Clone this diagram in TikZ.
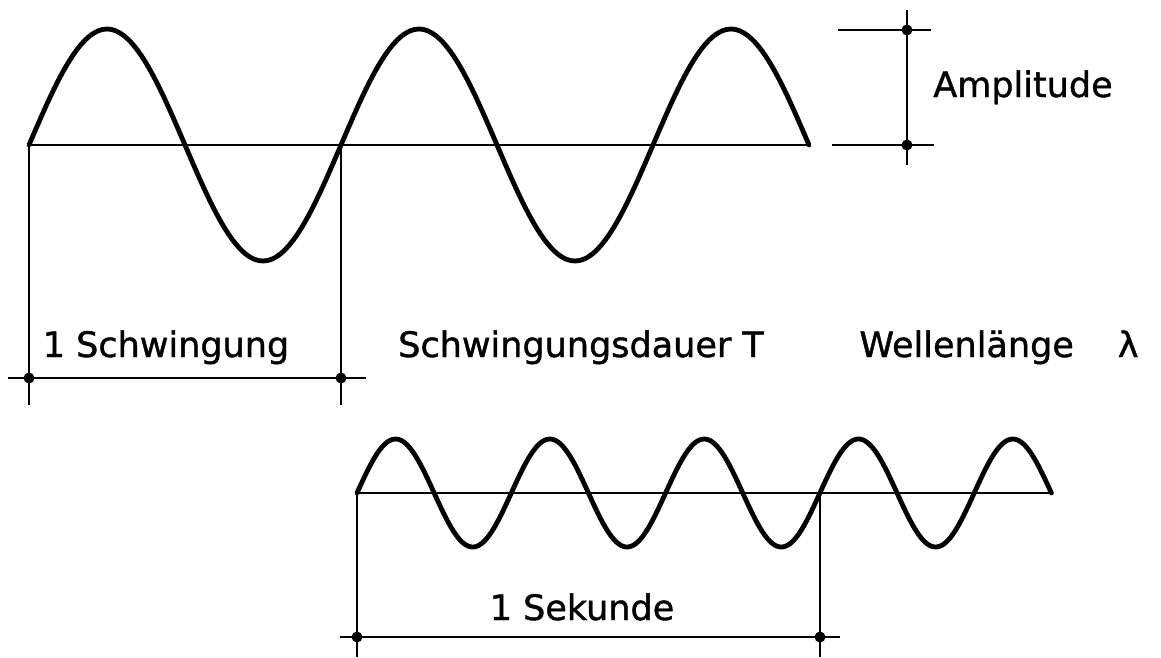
\documentclass[tikz,border=0pt]{standalone}
\usepackage{fontspec}
\setmainfont{DejaVu Sans}[BoldFont={DejaVu Sans}, BoldFeatures={FakeBold=1.2}]
\usetikzlibrary{positioning}

\begin{document}
\begin{tikzpicture}[
  x=1pt, y=-1pt,
  wave/.style={line width=4.8pt, line join=round, line cap=round},
  dim/.style={line width=2.2pt},
  lbl/.style={font=\fontsize{35}{40}\selectfont\bfseries, inner sep=0pt, anchor=base},
  dot/.style={circle, fill, inner sep=0pt, minimum size=11pt}
]
\useasboundingbox (0,0) rectangle (1161,657);

% upper wave
\coordinate (o1) at (29,145);
\coordinate (e1) at (809,145);
\coordinate (t1) at (341,145);
\draw[dim] (o1) -- (e1);
\draw[wave] plot[domain=0:900, samples=181]
  ({29+312*(\x/360)}, {145-116*sin(\x)});

% one period
\coordinate (s1) at (29,405);
\coordinate (s2) at (341,405);
\coordinate (hl) at (8,378);
\coordinate (hr) at (366,378);
\node[dot] (p1) at (29,378) {};
\node[dot] (p2) at (341,378) {};
\draw[dim] (o1) -- (s1);
\draw[dim] (t1) -- (s2);
\draw[dim] (hl) -- (hr);

% amplitude
\coordinate (a1) at (907,10);
\coordinate (a2) at (907,165);
\coordinate (u1) at (838,30);
\coordinate (u2) at (931,30);
\coordinate (l1) at (832,145);
\coordinate (l2) at (934,145);
\node[dot] (q1) at (907,30) {};
\node[dot] (q2) at (907,145) {};
\draw[dim] (a1) -- (a2);
\draw[dim] (u1) -- (u2);
\draw[dim] (l1) -- (l2);

% labels
\node[lbl] (amp) at (1023,97) {Amplitude};
\node[lbl] (schw) at (166,357) {1 Schwingung};
\node[lbl] (dauer) at (581,357) {Schwingungsdauer T};
\node[lbl] (welle) at (999,357) {Wellenlänge\hspace{44pt}λ};

% lower wave
\coordinate (o2) at (357,493);
\coordinate (e2) at (1051,493);
\coordinate (t2) at (820,493);
\draw[dim] (o2) -- (e2);
\draw[wave] plot[domain=0:1620, samples=325]
  ({357+154.3*(\x/360)}, {493-54*sin(\x)});

% one second
\coordinate (v1) at (357,657);
\coordinate (v2) at (820,657);
\coordinate (gl) at (340,637);
\coordinate (gr) at (840,637);
\node[dot] (r1) at (357,637) {};
\node[dot] (r2) at (820,637) {};
\draw[dim] (o2) -- (v1);
\draw[dim] (t2) -- (v2);
\draw[dim] (gl) -- (gr);
\node[lbl] (sek) at (582,620) {1 Sekunde};
\end{tikzpicture}
\end{document}
